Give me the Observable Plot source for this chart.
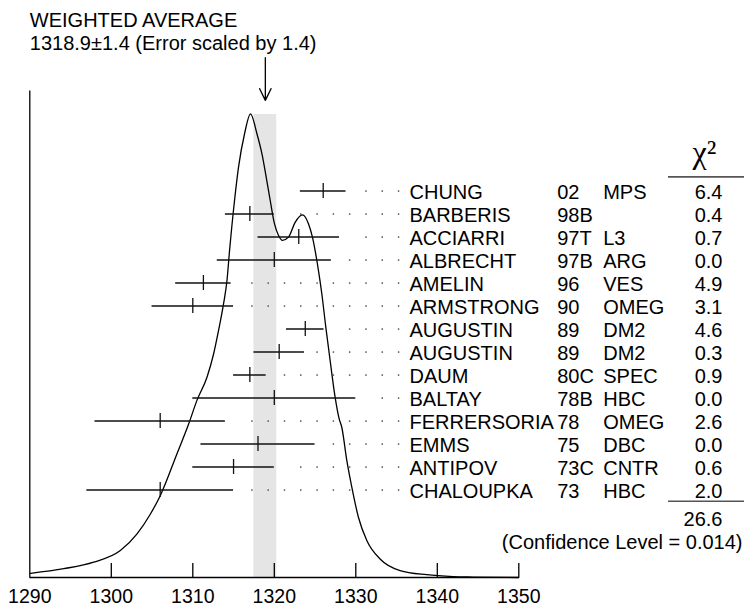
<!DOCTYPE html>
<html>
<head>
<meta charset="utf-8">
<script src="https://cdn.jsdelivr.net/npm/d3@7"></script>
<script src="https://cdn.jsdelivr.net/npm/@observablehq/plot@0.6"></script>
<style>
  body { margin: 0; background: #fff; }
  #wrap { position: relative; width: 744px; height: 607px; }
  #wrap svg { position: absolute; left: 0; top: 0; }
</style>
</head>
<body>
<div id="wrap"></div>
<script>
// ---- Data ----
const names = ["CHUNG","BARBERIS","ACCIARRI","ALBRECHT","AMELIN","ARMSTRONG","AUGUSTIN","AUGUSTIN","DAUM","BALTAY","FERRERSORIA","EMMS","ANTIPOV","CHALOUPKA"];
const years = ["02","98B","97T","97B","96","90","89","89","80C","78B","78","75","73C","73"];
const detectors = ["MPS","","L3","ARG","VES","OMEG","DM2","DM2","SPEC","HBC","OMEG","DBC","CNTR","HBC"];
const values = [1326, 1317, 1323, 1320, 1311.3, 1310, 1323.8, 1320.6, 1317, 1320, 1306, 1318, 1315, 1306];
const errors = [2.8, 3, 5, 7, 3.4, 5, 2.3, 3.1, 2, 10, 8, 7, 5, 9];
const chi2 = ["6.4","0.4","0.7","0.0","4.9","3.1","4.6","0.3","0.9","0.0","2.6","0.0","0.6","2.0"];
const chi2Total = "26.6";
const confidenceLevel = "0.014";
const weightedAvg = 1318.9;
const weightedErr = 1.4;
const errScale = "1.4";
const xTicks = [1290, 1300, 1310, 1320, 1330, 1340, 1350];
// leader-dot grid positions (x values)
const leaderGrid = [1317.25, 1319.25, 1321.25, 1323.25, 1325.25, 1327.25, 1329.25, 1331.25, 1333.25, 1335.25];
// ideogram curve (relative height, peak = 1)
const curveX = [1290.09,1294.17,1297.84,1301.11,1303.16,1304.80,1306.02,1308.06,1309.49,1310.51,1311.74,1312.55,1313.16,1313.77,1314.19,1314.51,1315.12,1315.61,1316.35,1317.08,1317.87,1318.48,1319.01,1319.50,1320.02,1320.51,1321.00,1321.74,1322.56,1323.46,1324.19,1324.68,1325.01,1325.42,1325.83,1326.32,1326.85,1327.46,1327.96,1328.28,1328.90,1329.51,1330.32,1331.35,1332.98,1335.43,1338.70,1341.96,1344.37,1350];
const curveY = [0.009,0.019,0.033,0.058,0.094,0.137,0.177,0.267,0.331,0.382,0.432,0.482,0.533,0.590,0.640,0.705,0.813,0.885,0.957,1.000,0.957,0.914,0.863,0.813,0.763,0.738,0.727,0.734,0.766,0.782,0.763,0.734,0.705,0.662,0.612,0.540,0.468,0.389,0.342,0.324,0.252,0.195,0.130,0.080,0.040,0.015,0.006,0.002,0.001,0.000];

// ---- Derived tables ----
const curve = curveX.map((x, i) => ({x, y: curveY[i]}));
const rows = names.map((name, i) => ({i, name, year: years[i], det: detectors[i], value: values[i], err: errors[i], chi: chi2[i]}));
const leaders = rows.flatMap(r => leaderGrid.filter(g => g - (r.value + r.err) > 1.5).map(g => ({i: r.i, x: g})));

const W = 744, H = 607;
const FONT = "'Liberation Sans', Arial, Helvetica, sans-serif";
const SERIF = "'Liberation Serif', 'Times New Roman', serif";
const xScale = {domain: [1290, 1350], range: [29.3, 518.3], axis: null};
const SW = 1.3;

// ---- Plot A: ideogram, band, axes, title ----
const plotA = Plot.plot({
  width: W, height: H, margin: 0,
  style: {fontFamily: FONT, background: "transparent"},
  x: xScale,
  y: {domain: [0, 1], range: [577, 113.3], axis: null},
  marks: [
    Plot.rect([weightedAvg], {x1: d => d - weightedErr, x2: d => d + weightedErr, y1: 0, y2: 0.9985, fill: "#e5e5e5"}),
    Plot.line(curve, {x: "x", y: "y", curve: "monotone-x", stroke: "black", strokeWidth: SW}),
    Plot.ruleY([0], {x1: 1290, x2: 1350, stroke: "black", strokeWidth: SW}),
    Plot.ruleX([1290], {y1: 0, y2: 1.049, stroke: "black", strokeWidth: SW}),
    Plot.ruleX(xTicks.slice(1), {y1: 0, y2: 0.0302, stroke: "black", strokeWidth: SW}),
    Plot.text(xTicks, {x: d => d, y: 0, text: d => String(d), lineAnchor: "bottom", dy: 25.5, textAnchor: "middle", fontSize: 19.5, fill: "black"}),
    Plot.arrow([weightedAvg], {x1: d => d, x2: d => d, y1: 1.121, y2: 1.029, headLength: 15, headAngle: 52, stroke: "black", strokeWidth: SW}),
    Plot.text(["WEIGHTED AVERAGE"], {frameAnchor: "top-left", dx: 29.3, dy: 26.7, lineAnchor: "bottom", textAnchor: "start", fontSize: 20, fill: "black", text: d => d}),
    Plot.text([`${weightedAvg}\u00B1${weightedErr} (Error scaled by ${errScale})`], {frameAnchor: "top-left", dx: 29.3, dy: 49, lineAnchor: "bottom", textAnchor: "start", fontSize: 20, fill: "black", text: d => d})
  ]
});

// ---- Plot B: measurements and table ----
const plotB = Plot.plot({
  width: W, height: H, margin: 0,
  style: {fontFamily: FONT, background: "transparent"},
  x: xScale,
  y: {type: "band", domain: rows.map(d => d.i), range: [174, 505.5], padding: 0, axis: null},
  marks: [
    Plot.dot(leaders, {x: "x", y: "i", r: 0.85, fill: "#444", stroke: null}),
    Plot.ruleY(rows, {y: "i", x1: d => d.value - d.err, x2: d => d.value + d.err, stroke: "#111", strokeWidth: SW}),
    Plot.tickX(rows, {x: "value", y: "i", insetTop: 4, insetBottom: 4, stroke: "#111", strokeWidth: SW}),
    Plot.text(rows, {y: "i", text: "name", frameAnchor: "left", dx: 409, dy: 8.3, lineAnchor: "bottom", textAnchor: "start", fontSize: 20, fill: "black"}),
    Plot.text(rows, {y: "i", text: "year", frameAnchor: "left", dx: 556.7, dy: 8.3, lineAnchor: "bottom", textAnchor: "start", fontSize: 20, fill: "black"}),
    Plot.text(rows, {y: "i", text: "det", frameAnchor: "left", dx: 602.7, dy: 8.3, lineAnchor: "bottom", textAnchor: "start", fontSize: 20, fill: "black"}),
    Plot.text(rows, {y: "i", text: "chi", frameAnchor: "left", dx: 722, dy: 8.3, lineAnchor: "bottom", textAnchor: "end", fontSize: 20, fill: "black"}),
    Plot.ruleY([rows[0].i], {y: d => d, dy: -14.1, insetLeft: 668, stroke: "#555", strokeWidth: 1.6}),
    Plot.ruleY([rows[rows.length - 1].i], {y: d => d, dy: 11.3, insetLeft: 668, stroke: "#555", strokeWidth: 1.6}),
    Plot.text([rows[rows.length - 1].i], {y: d => d, text: () => chi2Total, frameAnchor: "left", dx: 722, dy: 36.3, lineAnchor: "bottom", textAnchor: "end", fontSize: 20, fill: "black"}),
    Plot.text([rows[rows.length - 1].i], {y: d => d, text: () => `(Confidence Level = ${confidenceLevel})`, frameAnchor: "left", dx: 742, dy: 59.3, lineAnchor: "bottom", textAnchor: "end", fontSize: 20, fill: "black"}),
    Plot.text(["\u03C7\u00B2"], {frameAnchor: "top-left", dx: 692, dy: 162, lineAnchor: "bottom", textAnchor: "start", fontSize: 32, fontFamily: SERIF, fill: "black", text: d => d})
  ]
});

const wrap = document.getElementById("wrap");
wrap.appendChild(plotA);
wrap.appendChild(plotB);
</script>
</body>
</html>
